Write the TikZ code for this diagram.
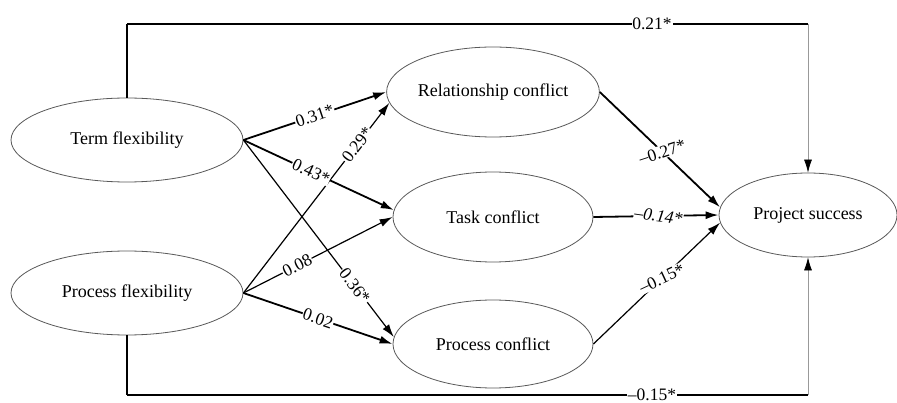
\documentclass[tikz,border=0pt]{standalone}
\usepackage{fontspec}
\setmainfont{Liberation Serif}
\usetikzlibrary{arrows.meta,shapes.geometric}
\begin{document}
\begin{tikzpicture}[x=1pt,y=-1pt,
  var/.style={draw=black!65,line width=0.8pt,ellipse,inner sep=0pt,
    font=\fontsize{18}{20}\selectfont},
  tipa/.style={-{Latex[length=13pt,width=8pt]}},
  thk/.style={tipa,line width=1.8pt},
  thn/.style={tipa,line width=1.2pt},
  lbl/.style={fill=white,inner sep=0.8pt,font=\fontsize{17.5}{19}\selectfont},
  hline/.style={line width=2.4pt},
  vline/.style={line width=1.7pt},
  gline/.style={draw=black!40,line width=0.7pt,-{Latex[length=13pt,width=8pt,color=black]}}
]
\useasboundingbox[fill=white] (0,0) rectangle (897,403);

\node[var,minimum width=232pt,minimum height=84pt] (tf) at (127,140) {Term flexibility};
\node[var,minimum width=232pt,minimum height=84pt] (pf) at (127,293) {Process flexibility};
\node[var,minimum width=200pt,minimum height=90pt] (rc) at (493,92) {Relationship conflict};
\node[var,minimum width=200pt,minimum height=90pt] (tc) at (493,217) {Task conflict};
\node[var,minimum width=200pt,minimum height=88pt] (pc) at (493,344) {Process conflict};
\node[var,minimum width=178pt,minimum height=84pt] (ps) at (808,215) {Project success};

% paths to mediators
\draw[thk] (tf.east) -- node[lbl,sloped,pos=0.5]{0.31*} (rc.west);
\draw[thn] (pf.east) -- node[lbl,sloped,pos=0.78]{0.29*} (rc.186);
\draw[thk] (tf.east) -- node[lbl,sloped,pos=0.45]{0.43*} (tc.176);
\draw[thn] (pf.east) -- node[lbl,sloped,pos=0.36]{0.08} (tc.west);
\draw[thn] (tf.east) -- node[lbl,sloped,pos=0.74]{0.36*} (pc.176);
\draw[thk] (pf.east) -- node[lbl,sloped,pos=0.5]{0.02} (pc.west);

% mediators to outcome
\draw[thk] (rc.east) -- node[lbl,rotate=18,pos=0.52]{–0.27*} (ps.175);
\draw[thk] (tc.east) -- node[lbl,rotate=-8,pos=0.52,font=\fontsize{17.5}{19}\selectfont\itshape]{–0.14*} (ps.west);
\draw[thn] (pc.east) -- node[lbl,rotate=25,pos=0.54]{–0.15*} (ps.185);

% direct paths
\coordinate (tl) at (127,24);
\coordinate (tr) at (808,24);
\coordinate (bl) at (127,395);
\coordinate (br) at (808,395);
\draw[vline] (tf.north) -- (tl);
\draw[hline] (tl) -- node[lbl,pos=0.771]{0.21*} (tr);
\draw[gline] (tr) -- (ps.north);
\draw[vline] (pf.south) -- (bl);
\draw[hline] (bl) -- node[lbl,pos=0.771]{–0.15*} (br);
\draw[gline] (br) -- (ps.south);
\end{tikzpicture}
\end{document}
